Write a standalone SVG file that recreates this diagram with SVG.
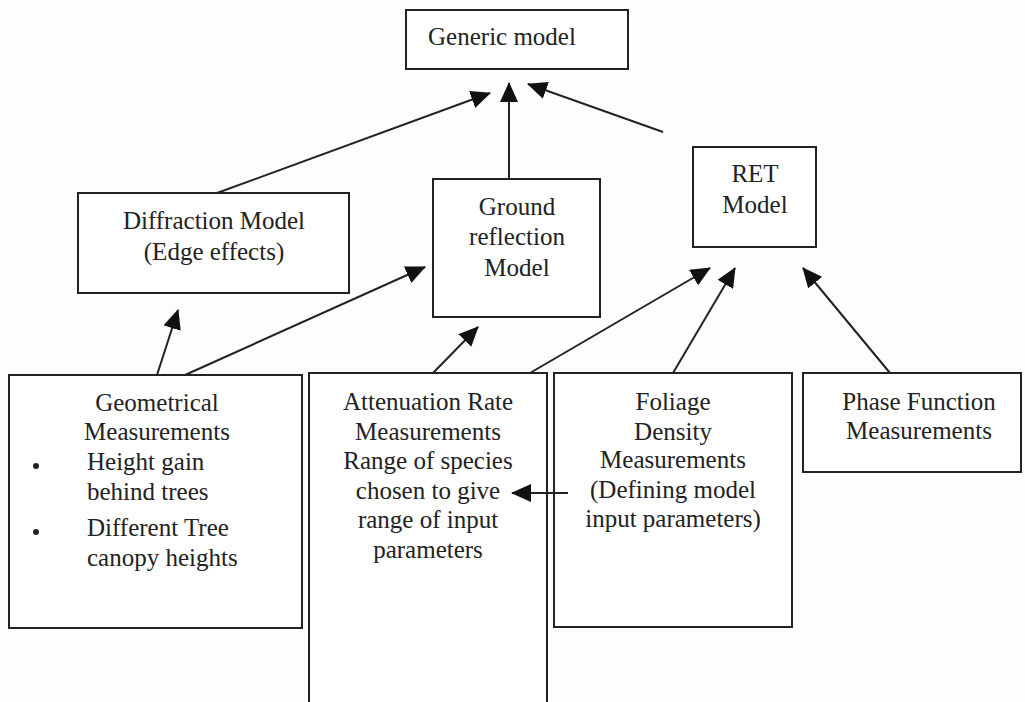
<svg xmlns="http://www.w3.org/2000/svg" width="1025" height="702" viewBox="0 0 1025 702">
<style>
.box{fill:#fff;stroke:#222;stroke-width:2}
.t{font-family:"Liberation Serif","Times New Roman",serif;font-size:25px;fill:#222;text-anchor:middle}
.tl{font-family:"Liberation Serif","Times New Roman",serif;font-size:25px;fill:#222}
.c{stroke:#222;stroke-width:2;fill:none;marker-end:url(#ah)}
</style>
<defs>
<marker id="ah" viewBox="0 0 20 18" refX="19" refY="9" markerWidth="20" markerHeight="18" markerUnits="userSpaceOnUse" orient="auto">
<path d="M0,0 L20,9 L0,18 z" fill="#111"/>
</marker>
</defs>
<rect width="1025" height="702" fill="#fdfdfd"/>
<g id="generic">
<rect class="box" x="406" y="10" width="222" height="59"/>
<text class="t" x="502" y="45">Generic model</text>
</g>
<g id="diffraction">
<rect class="box" x="78" y="193" width="271" height="100"/>
<text class="t" x="214" y="229">Diffraction Model</text>
<text class="t" x="214" y="260">(Edge effects)</text>
</g>
<g id="ground">
<rect class="box" x="433" y="179" width="167" height="138"/>
<text class="t" x="517" y="215">Ground</text>
<text class="t" x="517" y="245">reflection</text>
<text class="t" x="517" y="276">Model</text>
</g>
<g id="ret">
<rect class="box" x="693" y="147" width="123" height="100"/>
<text class="t" x="755" y="182">RET</text>
<text class="t" x="755" y="213">Model</text>
</g>
<g id="geometrical">
<rect class="box" x="9" y="375" width="293" height="253"/>
<text class="t" x="157" y="411">Geometrical</text>
<text class="t" x="157" y="440">Measurements</text>
<circle cx="36" cy="466" r="3" fill="#222"/>
<text class="tl" x="87" y="470">Height gain</text>
<text class="tl" x="87" y="500">behind trees</text>
<circle cx="36" cy="532" r="3" fill="#222"/>
<text class="tl" x="87" y="536">Different Tree</text>
<text class="tl" x="87" y="566">canopy heights</text>
</g>
<g id="attenuation">
<rect class="box" x="309" y="373" width="238" height="340"/>
<text class="t" x="428" y="410">Attenuation Rate</text>
<text class="t" x="428" y="440">Measurements</text>
<text class="t" x="428" y="469">Range of species</text>
<text class="t" x="428" y="499">chosen to give</text>
<text class="t" x="428" y="528">range of input</text>
<text class="t" x="428" y="558">parameters</text>
</g>
<g id="foliage">
<rect class="box" x="554" y="373" width="238" height="254"/>
<text class="t" x="673" y="410">Foliage</text>
<text class="t" x="673" y="440">Density</text>
<text class="t" x="673" y="468">Measurements</text>
<text class="t" x="673" y="498">(Defining model</text>
<text class="t" x="673" y="527">input parameters)</text>
</g>
<g id="phase">
<rect class="box" x="803" y="373" width="218" height="99"/>
<text class="t" x="919" y="410">Phase Function</text>
<text class="t" x="919" y="439">Measurements</text>
</g>
<g id="connectors">
<line class="c" x1="217" y1="193" x2="490" y2="93"/>
<line class="c" x1="509" y1="179" x2="509" y2="83"/>
<line class="c" x1="663" y1="132" x2="528" y2="84"/>
<line class="c" x1="157" y1="375" x2="178" y2="310"/>
<line class="c" x1="185" y1="375" x2="425" y2="267"/>
<line class="c" x1="433" y1="373" x2="478" y2="327"/>
<line class="c" x1="530" y1="373" x2="710" y2="268"/>
<line class="c" x1="673" y1="373" x2="735" y2="268"/>
<line class="c" x1="890" y1="373" x2="803" y2="268"/>
<line class="c" x1="568" y1="493" x2="512" y2="493"/>
</g>
</svg>
